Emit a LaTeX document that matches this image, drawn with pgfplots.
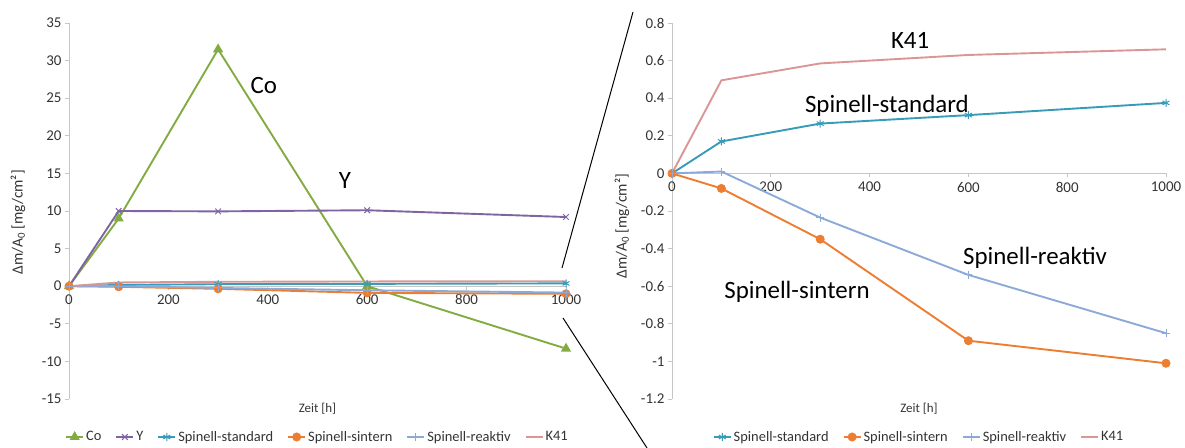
\documentclass[border=0pt]{standalone}
\usepackage{fontspec}
\setmainfont{Carlito}
\usepackage{pgfplots}
\pgfplotsset{compat=1.18}
\definecolor{cCo}{RGB}{130,172,66}
\definecolor{cY}{RGB}{128,100,162}
\definecolor{cStd}{RGB}{55,155,185}
\definecolor{cSin}{RGB}{237,125,49}
\definecolor{cRea}{RGB}{140,170,215}
\definecolor{cK}{RGB}{217,150,148}
\pgfplotsset{
  myaxis/.style={
    scale only axis,
    axis x line=middle, axis y line=left,
    axis line style={-, draw=gray!45, line width=0.8bp},
    tick style={draw=gray!45, line width=0.8bp},
    major tick length=4bp,
    tick align=outside,
    hide obscured x ticks=false,
    hide obscured y ticks=false,
    clip=false,
    font=\fontsize{15}{17}\selectfont,
    ticklabel style={font=\fontsize{15}{17}\selectfont, text=black!80},
    /pgf/number format/assume math mode=true,
    /pgf/number format/fixed,
    /pgf/number format/1000 sep={},
    xmin=0, xmax=1000,
    xtick={0,200,...,1000},
    xticklabel style={yshift=-1bp},
    xlabel={Zeit [h]},
    xlabel style={at={(axis description cs:0.5,0)}, anchor=north, yshift=-1bp, font=\fontsize{13}{15}\selectfont, text=black!80},
    ylabel={Δm/A\textsubscript{0} [mg/cm²]},
    ylabel style={anchor=center, font=\fontsize{15.5}{17}\selectfont, text=black!80},
    legend style={draw=none, fill=none, legend columns=-1, at={(axis description cs:0.5,0)}, anchor=center, yshift=-38bp,
      font=\fontsize{14.5}{16}\selectfont, text=black!80,
      /tikz/every even column/.append style={column sep=12bp}},
    every axis plot/.append style={line width=1.9bp},
  }
}
\begin{document}
\begin{tikzpicture}[x=1bp,y=1bp]
\useasboundingbox (0bp,0bp) rectangle (1185bp,448bp);
\begin{axis}[myaxis, at={(69bp,49bp)}, anchor=south west, width=497bp, height=376bp,
  ymin=-15, ymax=35, ytick={-15,-10,...,35},
  ylabel style={at={(axis description cs:-0.1026,0.47)}}]
\addplot[cCo, mark=triangle*, mark size=4bp] coordinates {(0,0)(100,9)(300,31.5)(600,0)(1000,-8.3)};
\addplot[cY, mark=x, mark size=4bp, mark options={line width=1bp}] coordinates {(0,0)(100,10)(300,9.95)(600,10.1)(1000,9.2)};
\addplot[cStd, mark=asterisk, mark size=4bp, mark options={line width=1bp}] coordinates {(0,0)(100,0.17)(300,0.265)(600,0.31)(1000,0.375)};
\addplot[cSin, mark=*, mark size=3.5bp] coordinates {(0,0)(100,-0.08)(300,-0.35)(600,-0.89)(1000,-1.01)};
\addplot[cRea, mark=+, mark size=4bp, mark options={line width=1bp}] coordinates {(0,0)(100,0.01)(300,-0.235)(600,-0.54)(1000,-0.85)};
\addplot[cK] coordinates {(0,0)(100,0.495)(300,0.585)(600,0.63)(1000,0.66)};
\legend{Co,Y,Spinell-standard,Spinell-sintern,Spinell-reaktiv,K41}
\node[font=\fontsize{25}{28}\selectfont] at (axis cs:392,26.7) {Co};
\node[font=\fontsize{25}{28}\selectfont] at (axis cs:555,14) {Y};
\end{axis}
\begin{axis}[myaxis, at={(672bp,49bp)}, anchor=south west, width=494bp, height=376bp,
  ymin=-1.2, ymax=0.8, ytick={-1.2,-1,...,0.8},
  ylabel style={at={(axis description cs:-0.1012,0.46)}},
  yticklabel={\pgfmathparse{round(\tick*10)/10}\pgfmathprintnumber{\pgfmathresult}}]
\addplot[cStd, mark=asterisk, mark size=4bp, mark options={line width=1bp}] coordinates {(0,0)(100,0.17)(300,0.265)(600,0.31)(1000,0.375)};
\addplot[cSin, mark=*, mark size=3.5bp] coordinates {(0,0)(100,-0.08)(300,-0.35)(600,-0.89)(1000,-1.01)};
\addplot[cRea, mark=+, mark size=4bp, mark options={line width=1bp}] coordinates {(0,0)(100,0.01)(300,-0.235)(600,-0.54)(1000,-0.85)};
\addplot[cK] coordinates {(0,0)(100,0.495)(300,0.585)(600,0.63)(1000,0.66)};
\legend{Spinell-standard,Spinell-sintern,Spinell-reaktiv,K41}
\node[font=\fontsize{25}{28}\selectfont] at (axis cs:482,0.707) {K41};
\node[font=\fontsize{25}{28}\selectfont] at (axis cs:435,0.36) {Spinell-standard};
\node[font=\fontsize{25}{28}\selectfont] at (axis cs:735,-0.45) {Spinell-reaktiv};
\node[font=\fontsize{25}{28}\selectfont] at (axis cs:253,-0.63) {Spinell-sintern};
\end{axis}
\draw[black, line width=1bp] (562bp,180bp) -- (633bp,436bp);
\draw[black, line width=1bp] (563bp,130bp) -- (647bp,0bp);
\end{tikzpicture}
\end{document}
